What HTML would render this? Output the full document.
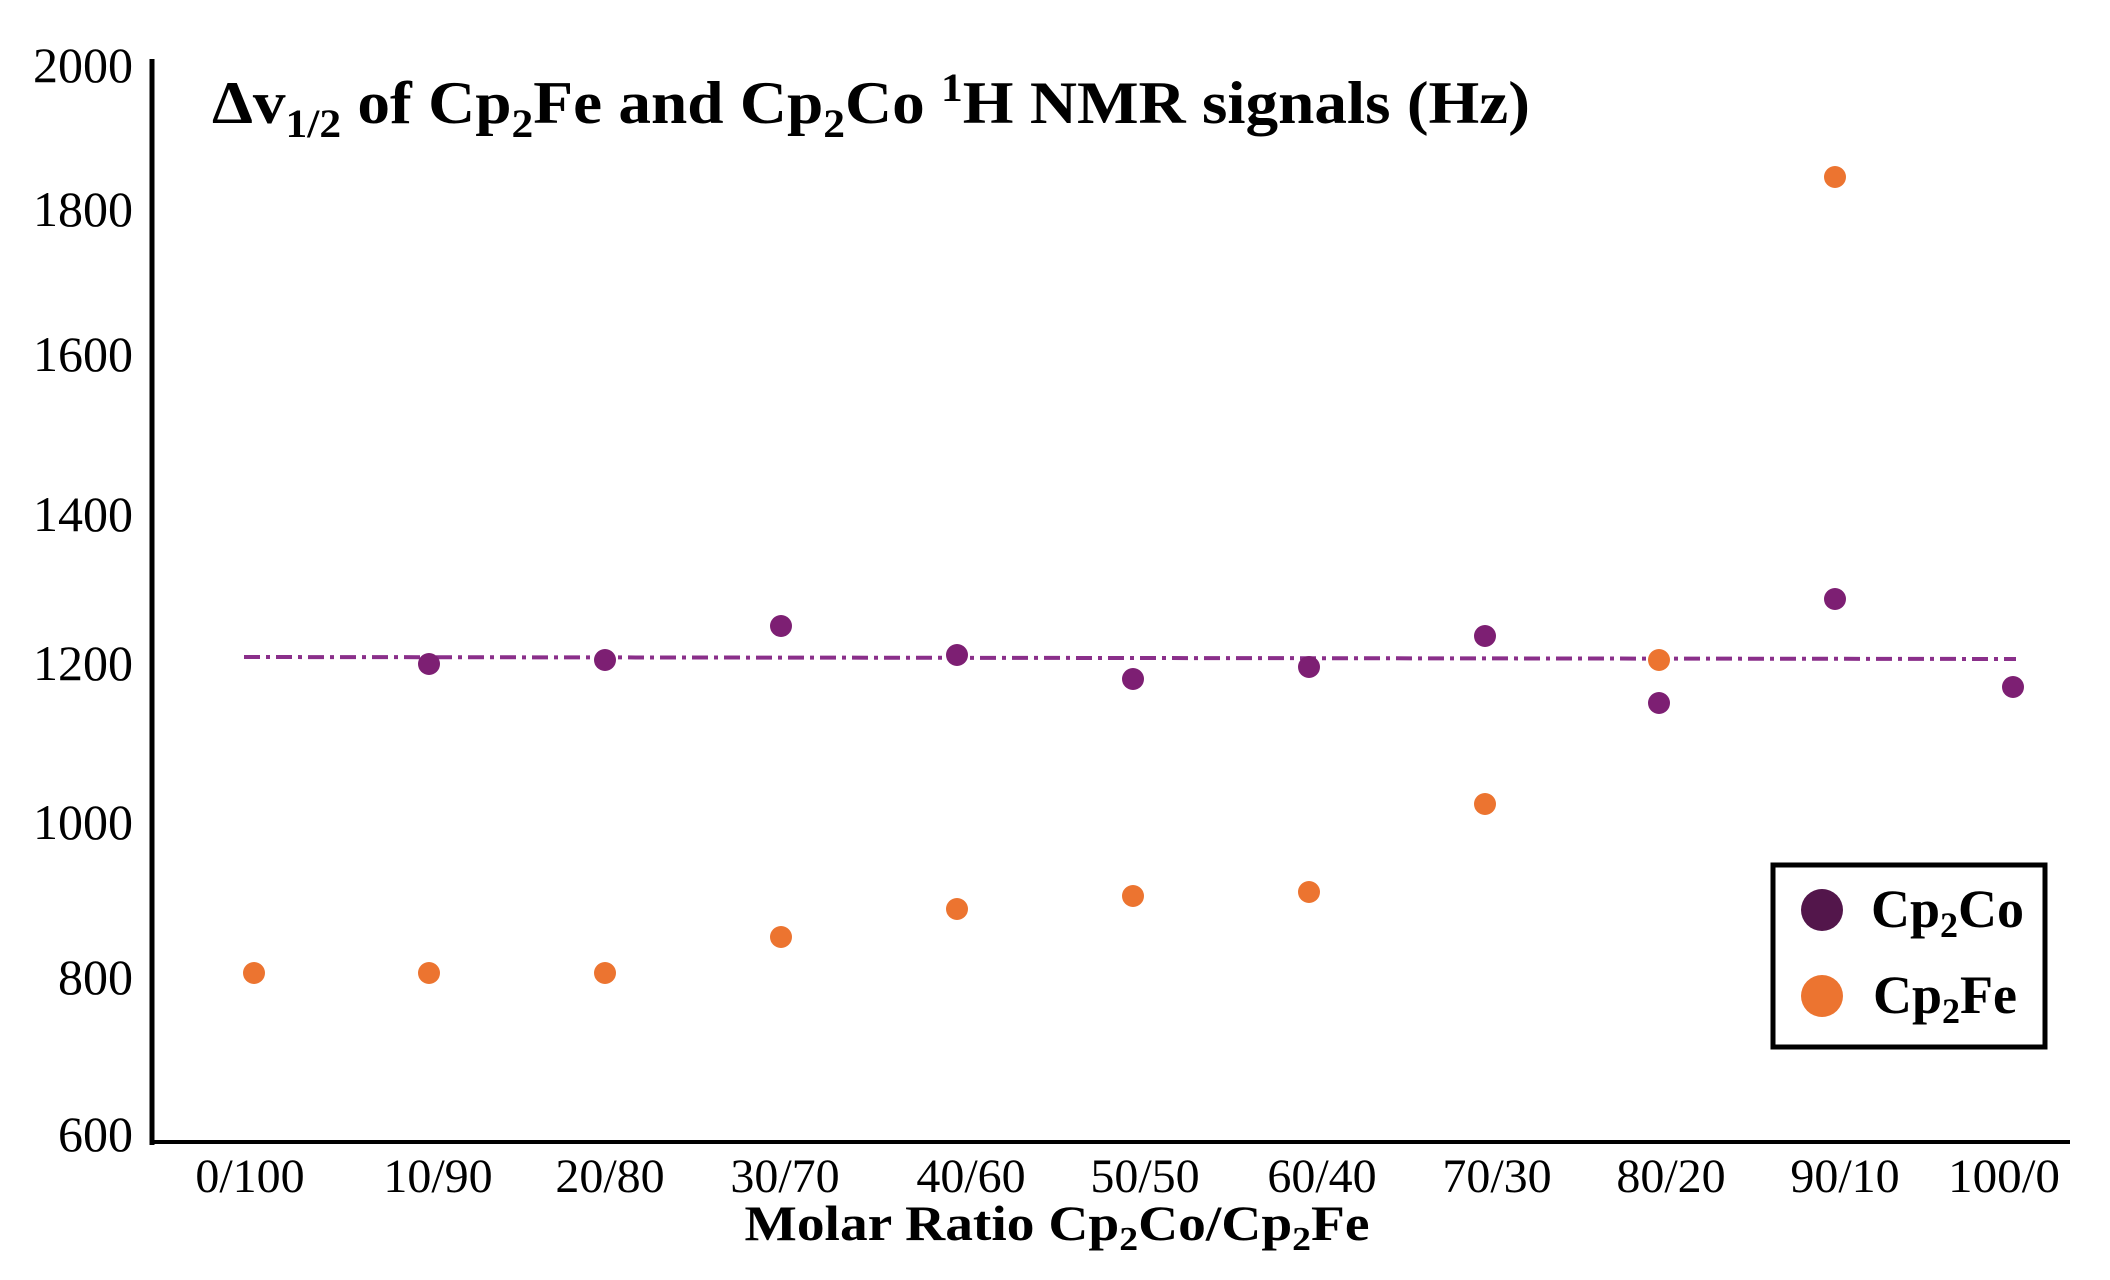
<!DOCTYPE html>
<html><head><meta charset="utf-8"><style>
html,body{margin:0;padding:0;background:#fff}
svg{display:block}
text{font-family:"Liberation Serif",serif;fill:#000}
</style></head><body>
<svg width="2110" height="1280" viewBox="0 0 2110 1280" xmlns="http://www.w3.org/2000/svg">
<line x1="152" y1="59" x2="152" y2="1145" stroke="#000" stroke-width="5"/>
<line x1="150" y1="1142" x2="2070" y2="1142" stroke="#000" stroke-width="4"/>
<g font-size="50" text-anchor="end">
<text x="133" y="82">2000</text>
<text x="133" y="226">1800</text>
<text x="133" y="371">1600</text>
<text x="133" y="531">1400</text>
<text x="133" y="680">1200</text>
<text x="133" y="839">1000</text>
<text x="133" y="994">800</text>
<text x="133" y="1151">600</text>
</g>
<g font-size="48" text-anchor="middle">
<text x="250" y="1192">0/100</text>
<text x="438" y="1192">10/90</text>
<text x="610" y="1192">20/80</text>
<text x="785" y="1192">30/70</text>
<text x="971" y="1192">40/60</text>
<text x="1145" y="1192">50/50</text>
<text x="1322" y="1192">60/40</text>
<text x="1497" y="1192">70/30</text>
<text x="1671" y="1192">80/20</text>
<text x="1845" y="1192">90/10</text>
<text x="2004" y="1192" textLength="112" lengthAdjust="spacingAndGlyphs">100/0</text>
</g>
<text x="1057" y="1240" font-size="50" font-weight="bold" text-anchor="middle" textLength="625" lengthAdjust="spacingAndGlyphs">Molar Ratio Cp<tspan font-size="34" dy="10">2</tspan><tspan dy="-10">Co/Cp</tspan><tspan font-size="34" dy="10">2</tspan><tspan dy="-10">Fe</tspan></text>
<text x="212" y="123" font-size="60" font-weight="bold" textLength="1318" lengthAdjust="spacingAndGlyphs">Δv<tspan font-size="40" dy="14">1/2</tspan><tspan dy="-14"> of Cp</tspan><tspan font-size="40" dy="14">2</tspan><tspan dy="-14">Fe and Cp</tspan><tspan font-size="40" dy="14">2</tspan><tspan dy="-14">Co </tspan><tspan font-size="40" dy="-22">1</tspan><tspan dy="22">H NMR signals (Hz)</tspan></text>
<line x1="244" y1="657" x2="2016" y2="659" stroke="#8a2f8a" stroke-width="4" stroke-dasharray="16,6,4,6"/>
<g fill="#ec7430">
<circle cx="254" cy="973" r="11"/>
<circle cx="429" cy="973" r="11"/>
<circle cx="605" cy="973" r="11"/>
<circle cx="781" cy="937" r="11"/>
<circle cx="957" cy="909" r="11"/>
<circle cx="1133" cy="896" r="11"/>
<circle cx="1309" cy="892" r="11"/>
<circle cx="1485" cy="804" r="11"/>
<circle cx="1659" cy="660" r="11"/>
<circle cx="1835" cy="177" r="11"/>
</g>
<g fill="#7d1f73">
<circle cx="429" cy="664" r="11"/>
<circle cx="605" cy="660" r="11"/>
<circle cx="781" cy="626" r="11"/>
<circle cx="957" cy="655" r="11"/>
<circle cx="1133" cy="679" r="11"/>
<circle cx="1309" cy="667" r="11"/>
<circle cx="1485" cy="636" r="11"/>
<circle cx="1659" cy="703" r="11"/>
<circle cx="1835" cy="599" r="11"/>
<circle cx="2013" cy="687" r="11"/>
</g>
<rect x="1773" y="865" width="272" height="182" fill="#fff" stroke="#000" stroke-width="5"/>
<circle cx="1822" cy="910" r="21" fill="#53164b"/>
<circle cx="1822" cy="996" r="21" fill="#ec7430"/>
<text x="1871" y="927" font-size="54" font-weight="bold">Cp<tspan font-size="36" dy="10">2</tspan><tspan dy="-10">Co</tspan></text>
<text x="1873" y="1013" font-size="54" font-weight="bold">Cp<tspan font-size="36" dy="10">2</tspan><tspan dy="-10">Fe</tspan></text>
</svg>
</body></html>
